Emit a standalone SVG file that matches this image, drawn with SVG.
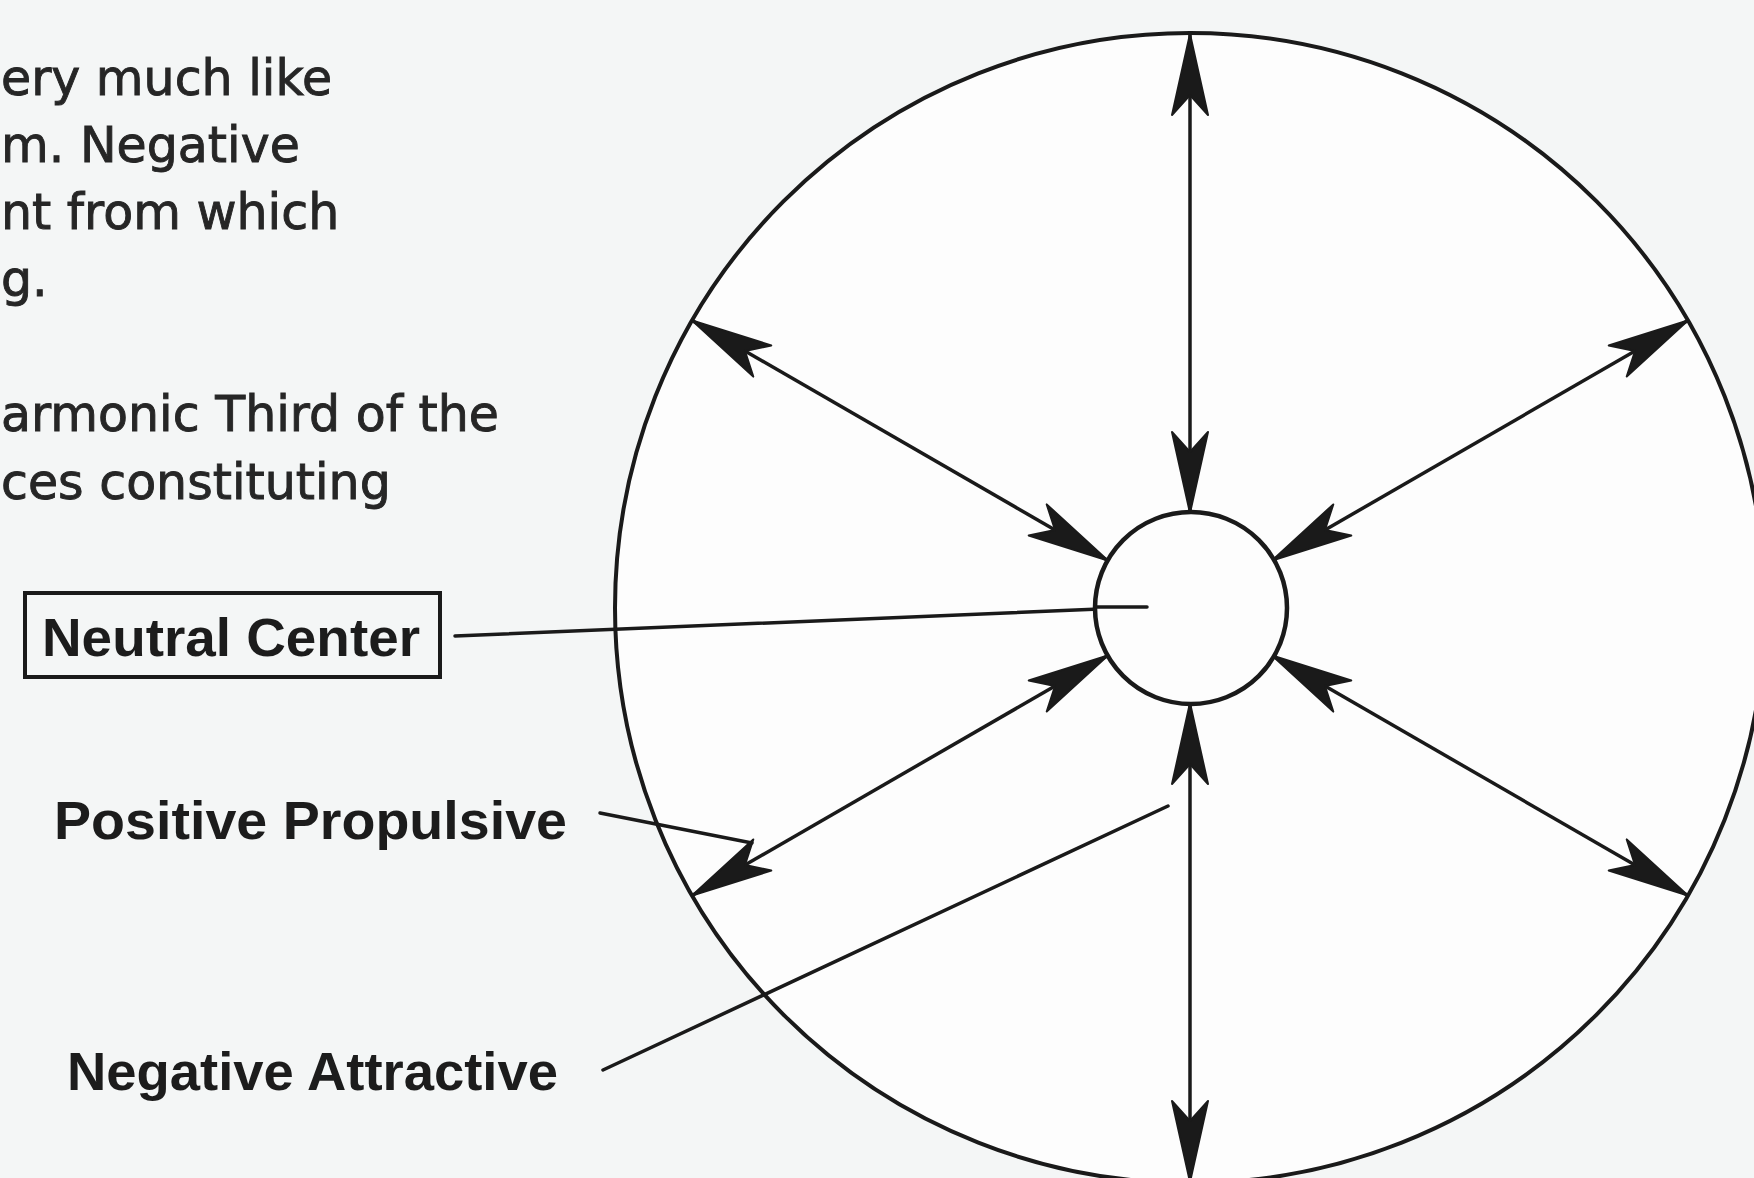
<svg xmlns="http://www.w3.org/2000/svg" width="1754" height="1178" viewBox="0 0 1754 1178">
  <style>
    .body { font-family: "DejaVu Sans", "Liberation Sans", sans-serif; font-size: 49px; fill: #262626; stroke: #262626; stroke-width: 0.9px; }
    .label { font-family: "Liberation Sans", Arial, sans-serif; font-weight: bold; font-size: 54px; fill: #1c1c1c; }
    .ln { stroke: #1a1a1a; fill: none; stroke-linecap: round; }
    .spoke { stroke: #1a1a1a; stroke-width: 3.5; fill: none; marker-start: url(#ah); marker-end: url(#ah); }
  </style>
  <defs>
    <marker id="ah" viewBox="-82 -22 84 44" refX="0" refY="0" markerWidth="84" markerHeight="44" markerUnits="userSpaceOnUse" orient="auto-start-reverse">
      <path d="M1,0 L-80,-18 L-60,0 L-80,18 Z" fill="#1a1a1a" stroke="#1a1a1a" stroke-width="2" stroke-linejoin="round"/>
    </marker>
  </defs>

  <rect x="0" y="0" width="1754" height="1178" fill="#f4f6f6"/>

  <g id="paragraph">
    <text class="body" x="1" y="95">ery much like</text>
    <text class="body" x="1" y="162">m. Negative</text>
    <text class="body" x="1" y="229">nt from which</text>
    <text class="body" x="1" y="296">g.</text>
    <text class="body" x="1" y="431">armonic Third of the</text>
    <text class="body" x="1" y="499">ces constituting</text>
  </g>

  <g id="outer-circle">
    <circle cx="1190" cy="608" r="575" fill="#fdfdfd" stroke="#1a1a1a" stroke-width="4"/>
  </g>

  <g id="connectors">
    <line class="spoke" x1="1190" y1="512" x2="1190" y2="35"/>
    <line class="spoke" x1="1190" y1="704" x2="1190" y2="1181"/>
    <line class="spoke" x1="1107" y1="560" x2="693" y2="321"/>
    <line class="spoke" x1="1273" y1="560" x2="1687" y2="321"/>
    <line class="spoke" x1="1107" y1="656" x2="693" y2="895"/>
    <line class="spoke" x1="1273" y1="656" x2="1687" y2="895"/>
    <line class="ln" stroke-width="3.5" x1="455" y1="636" x2="1147" y2="607"/>
    <line class="ln" stroke-width="3.5" x1="600" y1="813" x2="752" y2="843"/>
    <line class="ln" stroke-width="3.5" x1="603" y1="1070" x2="1168" y2="806"/>
  </g>

  <g id="neutral-center-circle">
    <circle cx="1191" cy="608" r="96" fill="#fdfdfd" stroke="#1a1a1a" stroke-width="4.5"/>
    <line class="ln" stroke-width="3.5" x1="1096" y1="607" x2="1147" y2="607"/>
  </g>

  <g id="label-neutral-center">
    <rect x="25" y="593" width="415" height="84" fill="none" stroke="#1a1a1a" stroke-width="4"/>
    <text class="label" x="42" y="656" textLength="378" lengthAdjust="spacingAndGlyphs">Neutral Center</text>
  </g>

  <g id="label-positive-propulsive">
    <text class="label" x="54" y="839" textLength="513" lengthAdjust="spacingAndGlyphs">Positive Propulsive</text>
  </g>

  <g id="label-negative-attractive">
    <text class="label" x="67" y="1090" textLength="491" lengthAdjust="spacingAndGlyphs">Negative Attractive</text>
  </g>
</svg>
